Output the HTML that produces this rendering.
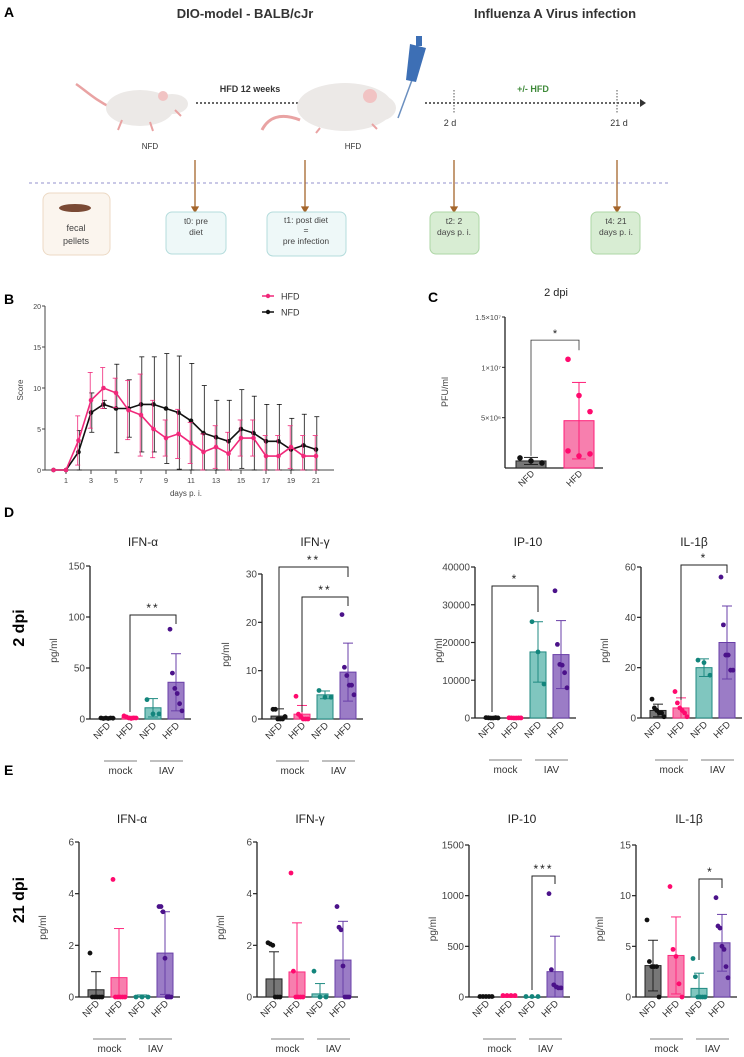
<!DOCTYPE html>
<html><head><meta charset="utf-8">
<style>
html,body{margin:0;padding:0;background:#fff;}
svg{display:block;font-family:"Liberation Sans",Arial,sans-serif;}
</style></head>
<body>
<svg id="fig" width="744" height="1057" viewBox="0 0 744 1057" xmlns="http://www.w3.org/2000/svg">
<g>
  <text x="4" y="17" font-size="14" font-weight="bold">A</text>
  <text x="245" y="18" font-size="13" font-weight="bold" text-anchor="middle" fill="#333">DIO-model - BALB/cJr</text>
  <text x="555" y="18" font-size="13" font-weight="bold" text-anchor="middle" fill="#333">Influenza A Virus infection</text>
  <g>
    <path d="M112,108 C95,100 85,90 76,84" stroke="#e9a3a3" stroke-width="2.5" fill="none"/>
    <ellipse cx="140" cy="108" rx="34" ry="18" fill="#ece9e7"/>
    <ellipse cx="172" cy="104" rx="16" ry="10" fill="#ece9e7"/>
    <circle cx="163" cy="96" r="5" fill="#f1c3c3"/>
    <path d="M122,120 l-4,10 M150,122 l3,9 M175,110 l6,6" stroke="#e9a3a3" stroke-width="2"/>
  </g>
  <text x="150" y="149" font-size="8" text-anchor="middle" fill="#333">NFD</text>
  <line x1="196" y1="103" x2="300" y2="103" stroke="#333" stroke-width="1.5" stroke-dasharray="2,2"/>
  <polygon points="300,99 306,103 300,107" fill="#333"/>
  <text x="250" y="92" font-size="9" font-weight="bold" text-anchor="middle" fill="#333">HFD  12 weeks</text>
  <g>
    <path d="M300,120 C280,112 268,118 262,130" stroke="#e9a3a3" stroke-width="3" fill="none"/>
    <ellipse cx="345" cy="107" rx="48" ry="24" fill="#ece9e7"/>
    <ellipse cx="378" cy="108" rx="18" ry="13" fill="#ece9e7"/>
    <circle cx="370" cy="96" r="7" fill="#f1c3c3"/>
    <path d="M320,128 l-4,5 M372,124 l5,5" stroke="#e9a3a3" stroke-width="2"/>
  </g>
  <text x="353" y="149" font-size="8" text-anchor="middle" fill="#333">HFD</text>
  <g>
    <line x1="412" y1="80" x2="398" y2="118" stroke="#6b8fbf" stroke-width="1.5"/>
    <polygon points="410,44 426,48 416,82 406,80" fill="#3d6fb5"/>
    <rect x="416" y="36" width="6" height="10" fill="#3d6fb5"/>
  </g>
  <line x1="425" y1="103" x2="640" y2="103" stroke="#333" stroke-width="1.5" stroke-dasharray="2,2"/>
  <polygon points="640,99 646,103 640,107" fill="#333"/>
  <line x1="454" y1="90" x2="454" y2="113" stroke="#555" stroke-width="1" stroke-dasharray="1.5,1.5"/>
  <line x1="617" y1="90" x2="617" y2="113" stroke="#555" stroke-width="1" stroke-dasharray="1.5,1.5"/>
  <text x="533" y="92" font-size="9" font-weight="bold" text-anchor="middle" fill="#3f8a3a">+/-  HFD</text>
  <text x="450" y="126" font-size="9" text-anchor="middle" fill="#333">2 d</text>
  <text x="619" y="126" font-size="9" text-anchor="middle" fill="#333">21 d</text>
  <line x1="29" y1="183" x2="670" y2="183" stroke="#a9a6d8" stroke-width="1.2" stroke-dasharray="3,3"/>
  <g stroke="#a4652b" stroke-width="1.3" fill="#a4652b">
    <line x1="195" y1="160" x2="195" y2="208"/><polygon points="192,207 198,207 195,212"/>
    <line x1="305" y1="160" x2="305" y2="208"/><polygon points="302,207 308,207 305,212"/>
    <line x1="454" y1="160" x2="454" y2="208"/><polygon points="451,207 457,207 454,212"/>
    <line x1="617" y1="160" x2="617" y2="208"/><polygon points="614,207 620,207 617,212"/>
  </g>
  <rect x="43" y="193" width="67" height="62" rx="7" fill="#fbf5ee" stroke="#ecd9c4"/>
  <ellipse cx="75" cy="208" rx="16" ry="4" fill="#7a4a35"/>
  <text x="76" y="231" font-size="9" text-anchor="middle" fill="#444">fecal</text>
  <text x="76" y="244" font-size="9" text-anchor="middle" fill="#444">pellets</text>
  <rect x="166" y="212" width="60" height="42" rx="6" fill="#eef8f8" stroke="#b4dcdc"/>
  <text x="196" y="224" font-size="8.5" text-anchor="middle" fill="#444">t0: pre</text>
  <text x="196" y="235" font-size="8.5" text-anchor="middle" fill="#444">diet</text>
  <rect x="267" y="212" width="79" height="44" rx="6" fill="#eef8f8" stroke="#b4dcdc"/>
  <text x="306" y="223" font-size="8.5" text-anchor="middle" fill="#444">t1: post diet</text>
  <text x="306" y="233" font-size="8.5" text-anchor="middle" fill="#444">=</text>
  <text x="306" y="244" font-size="8.5" text-anchor="middle" fill="#444">pre infection</text>
  <rect x="430" y="212" width="49" height="42" rx="6" fill="#d8edd3" stroke="#add6a5"/>
  <text x="454" y="224" font-size="8.5" text-anchor="middle" fill="#444">t2: 2</text>
  <text x="454" y="235" font-size="8.5" text-anchor="middle" fill="#444">days p. i.</text>
  <rect x="591" y="212" width="49" height="42" rx="6" fill="#d8edd3" stroke="#add6a5"/>
  <text x="616" y="224" font-size="8.5" text-anchor="middle" fill="#444">t4: 21</text>
  <text x="616" y="235" font-size="8.5" text-anchor="middle" fill="#444">days p. i.</text>
</g>
<text x="4" y="304" font-size="14" font-weight="bold">B</text>
<text x="428" y="302" font-size="14" font-weight="bold">C</text>
<text x="4" y="517" font-size="14" font-weight="bold">D</text>
<text x="4" y="775" font-size="14" font-weight="bold">E</text>
<text transform="translate(24,628) rotate(-90)" font-size="16" font-weight="bold" text-anchor="middle">2 dpi</text>
<text transform="translate(24,900) rotate(-90)" font-size="16" font-weight="bold" text-anchor="middle">21 dpi</text>
<g id="gB"></g>
<g id="gC"></g>
<g id="gD"></g>
<g id="gE"></g>
</svg>
<script>
// ---- Panel B data ----
const bDays = [0,1,2,3,4,5,6,7,8,9,10,11,12,13,14,15,16,17,18,19,20,21];
const bHFD = [0,0,3.6,8.5,10,9.4,7.3,6.7,5,3.9,4.4,3.3,2.2,2.8,2,3.9,3.9,1.7,1.7,2.8,1.7,1.7];
const bHFDsd = [0,0,3,3.4,2.5,1.8,3.6,5,3.5,2.2,3,2.5,2.2,2.6,2.6,2.2,2.2,2.5,2.5,2.6,2.5,2.5];
const bNFD = [0,0,2.2,7,8,7.5,7.5,8,8,7.5,7,6,4.5,4,3.5,5,4.5,3.5,3.5,2.5,3,2.5];
const bNFDsd = [0,0,2.6,2.4,0.5,5.4,3.5,5.8,5.8,6.7,6.9,7,5.8,4.5,5,4.8,4.5,4.5,4.5,3.8,3.8,4];
const bYTicks = [0,5,10,15,20];
const bXTicks = [1,3,5,7,9,11,13,15,17,19,21];
// ---- Panel C data ----
const cGroups = ["NFD","HFD"];
const cMeans = [0.7e6,4.7e6];
const cSD = [0.35e6,3.8e6];
const cDotsNFD = [1.0e6,0.7e6,0.5e6];
const cDotsHFD = [10.8e6,7.2e6,5.6e6,1.7e6,1.2e6,1.4e6];
const cYTicks = [5e6,1e7,1.5e7];
const cYTickLabels = ["5×10⁶","1×10⁷","1.5×10⁷"];
// ---- Panel D data (2 dpi) ----
const dIFNaMeans=[1,1.5,11,36], dIFNaSD=[0.6,1.2,9,28];
const dIFNaDots=[[1,0.5,1,0.5,1,0.8],[3,2,1,0.5,1,1],[19,5,5],[88,45,30,25,15,8]];
const dIFNaTicks=[0,50,100,150];
const dIFNgMeans=[0.6,1,5,9.7], dIFNgSD=[1.5,1.8,0.8,6];
const dIFNgDots=[[2,2,0,0,0,0.5],[4.7,1,0.5,0,0,0],[5.9,4.5,4.5],[21.6,10.7,9,7,7,5]];
const dIFNgTicks=[0,10,20,30];
const dIP10Means=[0,0,17500,16800], dIP10SD=[0,0,8000,9000];
const dIP10Dots=[[100,50,0,0,80,20],[60,40,0,0,30,20],[25500,17500,9000],[33700,19500,14200,14000,12000,8000]];
const dIP10Ticks=[0,10000,20000,30000,40000];
const dIL1bMeans=[3,4,20,30], dIL1bSD=[2.5,4,3.5,14.5];
const dIL1bDots=[[7.5,4,3,2,2,0.5],[10.5,6,4,3,2,0.5],[23,22,17],[56,37,25,25,19,19]];
const dIL1bTicks=[0,20,40,60];
// ---- Panel E data (21 dpi) ----
const eIFNaMeans=[0.28,0.75,0.03,1.7], eIFNaSD=[0.7,1.9,0.05,1.6];
const eIFNaDots=[[1.7,0,0,0,0,0],[4.55,0,0,0,0,0],[0,0,0],[3.5,3.5,3.3,1.5,0,0,0]];
const eIFNaTicks=[0,2,4,6];
const eIFNgMeans=[0.7,0.97,0.12,1.43], eIFNgSD=[1.05,1.9,0.4,1.5];
const eIFNgDots=[[2.1,2.05,2,0,0,0],[4.8,1,0,0,0,0],[1,0,0],[3.5,2.7,2.6,1.2,0,0,0]];
const eIFNgTicks=[0,2,4,6];
const eIP10Means=[0,0,0,250], eIP10SD=[0,0,0,350];
const eIP10Dots=[[5,5,5,5,5],[15,15,15,15],[5,5,5],[1020,270,120,100,90,90]];
const eIP10Ticks=[0,500,1000,1500];
const eIL1bMeans=[3.1,4.1,0.85,5.35], eIL1bSD=[2.5,3.8,1.5,2.8];
const eIL1bDots=[[7.6,3.5,3,3,3,0],[10.9,4.7,4,1.3,0],[3.8,2,0,0,0,0],[9.8,7,6.8,5,4.7,3,1.9]];
const eIL1bTicks=[0,5,10,15];
const groupLabels=["NFD","HFD","NFD","HFD"];

const NS="http://www.w3.org/2000/svg";
function mk(parent,tag,attrs,text){const e=document.createElementNS(NS,tag);for(const k in attrs)e.setAttribute(k,attrs[k]);if(text!==undefined)e.textContent=text;parent.appendChild(e);return e;}

// ---- Panel B ----
(function(){
const g=document.getElementById('gB');
const x=d=>53.5+d*12.5, y=v=>470-v*8.2;
mk(g,'line',{x1:45,y1:y(20),x2:45,y2:470,stroke:'#444','stroke-width':1});
mk(g,'line',{x1:45,y1:470,x2:334,y2:470,stroke:'#444','stroke-width':1});
bYTicks.forEach(t=>{mk(g,'line',{x1:42,y1:y(t),x2:45,y2:y(t),stroke:'#444'});
 const tl=mk(g,'text',{x:41,y:y(t)+3,'font-size':7,'text-anchor':'end',fill:'#444'},String(t));
 
 });
bXTicks.forEach(t=>{mk(g,'line',{x1:x(t),y1:470,x2:x(t),y2:474,stroke:'#444'});
 const tl=mk(g,'text',{x:x(t),y:483,'font-size':7.5,'text-anchor':'middle',fill:'#444'},String(t));
 
 });
const yt=mk(g,'text',{transform:'translate(23,390) rotate(-90)','font-size':8,'text-anchor':'middle',fill:'#444'},'Score');


const xt=mk(g,'text',{x:186,y:496,'font-size':8,'text-anchor':'middle',fill:'#444'},'days p. i.');


function series(vals,sds,col,name,dx){
 const s=mk(g,'g',{});
 
 
 bDays.forEach((d,i)=>{if(sds[i]>0){const xx=x(d)+dx,lo=Math.max(0,vals[i]-sds[i]),hi=vals[i]+sds[i];
  mk(s,'line',{x1:xx,y1:y(lo),x2:xx,y2:y(hi),stroke:col,'stroke-width':0.8});
  mk(s,'line',{x1:xx-2.5,y1:y(hi),x2:xx+2.5,y2:y(hi),stroke:col,'stroke-width':0.8});
  mk(s,'line',{x1:xx-2.5,y1:y(lo),x2:xx+2.5,y2:y(lo),stroke:col,'stroke-width':0.8});}});
 mk(s,'polyline',{points:bDays.map((d,i)=>x(d)+','+y(vals[i])).join(' '),fill:'none',stroke:col,'stroke-width':1.6});
 bDays.forEach((d,i)=>{const c=mk(s,'circle',{cx:x(d),cy:y(vals[i]),r:2.3,fill:col});
  
  });
}
series(bNFD,bNFDsd,'#111','nfd-series',0.8);
series(bHFD,bHFDsd,'#f0287a','hfd-series',-0.8);
[['HFD','#f0287a',296],['NFD','#111',312]].forEach(([l,c,yy])=>{
 const lg=mk(g,'g',{});
 
 
 mk(lg,'line',{x1:262,y1:yy,x2:274,y2:yy,stroke:c,'stroke-width':1.5});
 mk(lg,'circle',{cx:268,cy:yy,r:2.2,fill:c});
 mk(lg,'text',{x:281,y:yy+3.5,'font-size':9,fill:'#333'},l);});
})();

// ---- Panel C ----
(function(){
const g=document.getElementById('gC');
const X=505, y=v=>468-v/1.5e7*151;
const cx=[531,579], cols=[['#777','#222','#111'],['#f77fae','#ff1e78','#ff0a6e']];
mk(g,'line',{x1:X,y1:y(1.5e7),x2:X,y2:468,stroke:'#222','stroke-width':1.3});
mk(g,'line',{x1:X,y1:468,x2:603,y2:468,stroke:'#222','stroke-width':1.3});
cYTicks.forEach((t,i)=>{mk(g,'line',{x1:X-3,y1:y(t),x2:X,y2:y(t),stroke:'#222'});
 const tl=mk(g,'text',{x:X-4,y:y(t)+3,'font-size':7.5,'text-anchor':'end',fill:'#444'},cYTickLabels[i]);
 
 });
const tt=mk(g,'text',{x:556,y:296,'font-size':11,'text-anchor':'middle',fill:'#222'},'2 dpi');


const yt=mk(g,'text',{transform:'translate(448,392) rotate(-90)','font-size':9,'text-anchor':'middle',fill:'#444'},'PFU/ml');


const dots=[cDotsNFD,cDotsHFD];
cGroups.forEach((gname,i)=>{
 const bar=mk(g,'rect',{x:cx[i]-15,y:y(cMeans[i]),width:30,height:468-y(cMeans[i]),fill:cols[i][0],stroke:cols[i][1],'stroke-width':1});
 
 
 const hi=cMeans[i]+cSD[i],lo=Math.max(0,cMeans[i]-cSD[i]);
 mk(g,'line',{x1:cx[i],y1:y(lo),x2:cx[i],y2:y(hi),stroke:cols[i][1]});
 mk(g,'line',{x1:cx[i]-7,y1:y(hi),x2:cx[i]+7,y2:y(hi),stroke:cols[i][1]});
 mk(g,'line',{x1:cx[i]-7,y1:y(lo),x2:cx[i]+7,y2:y(lo),stroke:cols[i][1]});
 dots[i].forEach((v,j)=>{const off=(j%3-1)*11;const d=mk(g,'circle',{cx:cx[i]+off,cy:y(v),r:2.8,fill:cols[i][2]});
  
  });
 const l=mk(g,'text',{transform:`translate(${cx[i]+4},${474}) rotate(-45)`,'font-size':9,'text-anchor':'end',fill:'#333'},gname);
 
 
});
mk(g,'polyline',{points:`${cx[0]},${y(1.2e6)} ${cx[0]},${y(1.27e7)} ${cx[1]},${y(1.27e7)} ${cx[1]},${y(1.17e7)}`,fill:'none',stroke:'#333','stroke-width':0.8});
mk(g,'text',{x:555,y:337,'font-size':11,'text-anchor':'middle',fill:'#222'},'*');
})();

// ---- Panels D & E ----
const fills=['#777777','#f77fae','#80c6bf','#9b7cc6'];
const strokes=['#222','#ff2a7f','#1f8a82','#6a3fa8'];
const dotc=['#111','#ff0a6e','#13857c','#4b128a'];
function barPanel(g,o){
 const sub=mk(g,'g',{});
 
 
 const max=o.ticks[o.ticks.length-1];
 const y=v=>o.y0-v/max*(o.y0-o.yTop);
 const bx=i=>o.X+17+i*23;
 mk(sub,'line',{x1:o.X,y1:o.yTop,x2:o.X,y2:o.y0,stroke:'#222','stroke-width':1.3});
 mk(sub,'line',{x1:o.X,y1:o.y0,x2:o.X+101,y2:o.y0,stroke:'#222','stroke-width':1.3});
 o.ticks.forEach(t=>{mk(sub,'line',{x1:o.X-4,y1:y(t),x2:o.X,y2:y(t),stroke:'#222','stroke-width':1.2});
  const tl=mk(sub,'text',{x:o.X-5,y:y(t)+3.5,'font-size':10,'text-anchor':'end',fill:'#444'},String(t));
  
  });
 const tt=mk(sub,'text',{x:o.X+53,y:o.titleY,'font-size':12,'text-anchor':'middle',fill:'#222'},o.title);
 
 
 const yt=mk(sub,'text',{transform:`translate(${o.X-33},${(o.y0+o.yTop)/2+8}) rotate(-90)`,'font-size':10,'text-anchor':'middle',fill:'#444'},'pg/ml');
 
 
 o.means.forEach((m,i)=>{
  const cx=bx(i);
  const bar=mk(sub,'rect',{x:cx-8,y:y(m),width:16,height:Math.max(0.5,o.y0-y(m)),fill:fills[i],stroke:strokes[i],'stroke-width':1});
  
  
  const hi=m+o.sd[i],lo=Math.max(0,m-o.sd[i]);
  if(o.sd[i]>0){
   mk(sub,'line',{x1:cx,y1:y(lo),x2:cx,y2:y(hi),stroke:strokes[i],'stroke-width':1});
   mk(sub,'line',{x1:cx-5,y1:y(hi),x2:cx+5,y2:y(hi),stroke:strokes[i],'stroke-width':1});
   mk(sub,'line',{x1:cx-5,y1:y(lo),x2:cx+5,y2:y(lo),stroke:strokes[i],'stroke-width':1});}
  const n=o.dots[i].length;
  o.dots[i].forEach((v,j)=>{const off=n>1?(j/(n-1)-0.5)*12:0;
   const d=mk(sub,'circle',{cx:cx+off,cy:y(v),r:2.4,fill:dotc[i]});
   
   });
  const l=mk(sub,'text',{transform:`translate(${cx+4},${o.y0+7}) rotate(-45)`,'font-size':9.5,'text-anchor':'end',fill:'#333'},groupLabels[i]);
  
  
 });
 const gl=o.y0+42;
 mk(sub,'line',{x1:bx(0)-3,y1:gl,x2:bx(1)+7,y2:gl,stroke:'#555','stroke-width':0.8});
 mk(sub,'line',{x1:bx(2)-3,y1:gl,x2:bx(3)+7,y2:gl,stroke:'#555','stroke-width':0.8});
 const mt=mk(sub,'text',{x:(bx(0)+bx(1))/2+2,y:gl+13,'font-size':10,'text-anchor':'middle',fill:'#333'},'mock');
 
 
 const it=mk(sub,'text',{x:(bx(2)+bx(3))/2+2,y:gl+13,'font-size':10,'text-anchor':'middle',fill:'#333'},'IAV');
 
 
 (o.sig||[]).forEach(s=>{
  const a=bx(s.a),b=bx(s.b);
  mk(sub,'polyline',{points:`${a},${s.ya} ${a},${s.yl} ${b},${s.yl} ${b},${s.yb}`,fill:'none',stroke:'#222','stroke-width':1});
  const st=mk(sub,'text',{x:(a+b)/2,y:s.yl-3,'font-size':12,'text-anchor':'middle',fill:'#222','letter-spacing':'2'},s.t);
  
  
 });
}
const gD=document.getElementById('gD'), gE=document.getElementById('gE');
barPanel(gD,{name:'ifn-alpha-2dpi',title:'IFN-α',titleY:546,X:90,yTop:566,y0:719,ticks:dIFNaTicks,means:dIFNaMeans,sd:dIFNaSD,dots:dIFNaDots,sig:[{a:1,b:3,yl:615,ya:712,yb:624,t:'**'}]});
barPanel(gD,{name:'ifn-gamma-2dpi',title:'IFN-γ',titleY:546,X:262,yTop:574,y0:719,ticks:dIFNgTicks,means:dIFNgMeans,sd:dIFNgSD,dots:dIFNgDots,sig:[{a:0,b:3,yl:567,ya:712,yb:577,t:'**'},{a:1,b:3,yl:597,ya:712,yb:606,t:'**'}]});
barPanel(gD,{name:'ip10-2dpi',title:'IP-10',titleY:546,X:475,yTop:567,y0:718,ticks:dIP10Ticks,means:dIP10Means,sd:dIP10SD,dots:dIP10Dots,sig:[{a:0,b:2,yl:586,ya:712,yb:612,t:'*'}]});
barPanel(gD,{name:'il1b-2dpi',title:'IL-1β',titleY:546,X:641,yTop:567,y0:718,ticks:dIL1bTicks,means:dIL1bMeans,sd:dIL1bSD,dots:dIL1bDots,sig:[{a:1,b:3,yl:565,ya:700,yb:573,t:'*'}]});
barPanel(gE,{name:'ifn-alpha-21dpi',title:'IFN-α',titleY:823,X:79,yTop:842,y0:997,ticks:eIFNaTicks,means:eIFNaMeans,sd:eIFNaSD,dots:eIFNaDots});
barPanel(gE,{name:'ifn-gamma-21dpi',title:'IFN-γ',titleY:823,X:257,yTop:842,y0:997,ticks:eIFNgTicks,means:eIFNgMeans,sd:eIFNgSD,dots:eIFNgDots});
barPanel(gE,{name:'ip10-21dpi',title:'IP-10',titleY:823,X:469,yTop:845,y0:997,ticks:eIP10Ticks,means:eIP10Means,sd:eIP10SD,dots:eIP10Dots,sig:[{a:2,b:3,yl:876,ya:990,yb:884,t:'***'}]});
barPanel(gE,{name:'il1b-21dpi',title:'IL-1β',titleY:823,X:636,yTop:845,y0:997,ticks:eIL1bTicks,means:eIL1bMeans,sd:eIL1bSD,dots:eIL1bDots,sig:[{a:2,b:3,yl:879,ya:960,yb:888,t:'*'}]});
</script>
</body></html>
